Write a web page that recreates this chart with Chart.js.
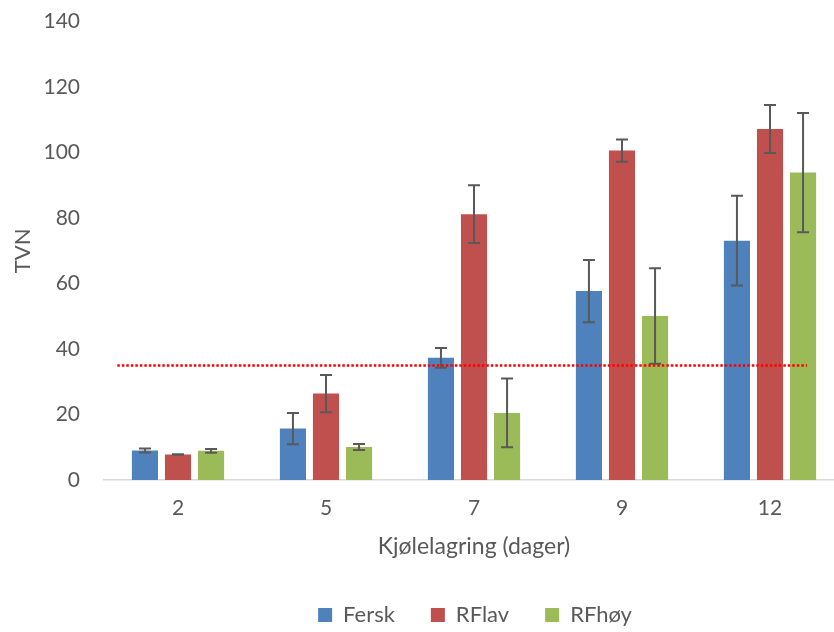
<!DOCTYPE html>
<html>
<head>
<meta charset="utf-8">
<script src="https://cdn.jsdelivr.net/npm/chart.js@4/dist/chart.umd.min.js"></script>
<style>
  html, body { margin: 0; padding: 0; background: #fff; overflow: hidden; }
  #wrap { position: relative; width: 950px; height: 647px; margin-top: -15px; }
</style>
</head>
<body>
<div id="wrap"><canvas id="tvn-chart"></canvas></div>
<script>
const days = ['2', '5', '7', '9', '12'];
const fersk = [9.0, 15.7, 37.3, 57.7, 73.1];
const ferskErr = [0.6, 4.8, 3.0, 9.5, 13.7];
const rflav = [7.8, 26.4, 81.2, 100.6, 107.2];
const rflavErr = [0.1, 5.7, 8.8, 3.4, 7.3];
const rfhoy = [8.9, 10.1, 20.5, 50.1, 93.9];
const rfhoyErr = [0.6, 0.9, 10.5, 14.6, 18.2];
const limitTVN = 35;

const textColor = '#595959';
const font = 'Lato, "Open Sans", sans-serif';

// error bars drawn from each dataset's errors through the y scale
const errorBars = {
    id: 'errorBars',
    afterDatasetsDraw(chart) {
        const ctx = chart.ctx;
        const y = chart.scales.y;
        chart.data.datasets.forEach((ds, di) => {
            const meta = chart.getDatasetMeta(di);
            meta.data.forEach((bar, i) => {
                const v = ds.data[i], e = ds.errors[i];
                const top = y.getPixelForValue(v + e);
                const bot = y.getPixelForValue(v - e);
                ctx.save();
                ctx.strokeStyle = '#595959';
                ctx.lineWidth = 2;
                ctx.beginPath();
                ctx.moveTo(bar.x, top); ctx.lineTo(bar.x, bot);
                ctx.moveTo(bar.x - 6, top); ctx.lineTo(bar.x + 6, top);
                ctx.moveTo(bar.x - 6, bot); ctx.lineTo(bar.x + 6, bot);
                ctx.stroke();
                ctx.restore();
            });
        });
    }
};

// dotted red limit line
const limitLine = {
    id: 'limitLine',
    afterDatasetsDraw(chart) {
        const ctx = chart.ctx;
        const x = chart.scales.x, y = chart.scales.y;
        const py = y.getPixelForValue(limitTVN);
        ctx.save();
        ctx.strokeStyle = '#ff0000';
        ctx.lineWidth = 2.5;
        ctx.setLineDash([2.5, 2]);
        ctx.beginPath();
        ctx.moveTo(x.getPixelForValue(-0.41), py);
        ctx.lineTo(x.getPixelForValue(4.25), py);
        ctx.stroke();
        ctx.restore();
    }
};

new Chart(document.getElementById('tvn-chart'), {
    type: 'bar',
    data: {
        labels: days,
        datasets: [
            { label: 'Fersk', data: fersk, errors: ferskErr, backgroundColor: '#4F81BD', borderWidth: 0 },
            { label: 'RFlav', data: rflav, errors: rflavErr, backgroundColor: '#C0504D', borderWidth: 0 },
            { label: 'RFhøy', data: rfhoy, errors: rfhoyErr, backgroundColor: '#9BBB59', borderWidth: 0 }
        ]
    },
    options: {
        responsive: true,
        maintainAspectRatio: false,
        animation: false,
        datasets: { bar: { categoryPercentage: 0.67, barPercentage: 0.79 } },
        layout: { padding: { top: 5, left: 0, right: 0, bottom: 0 } },
        plugins: {
            tooltip: { enabled: false },
            legend: {
                position: 'bottom',
                maxHeight: 64,
                labels: { boxWidth: 14, boxHeight: 14, padding: 36, color: textColor, font: { family: font, size: 22 } }
            }
        },
        scales: {
            x: {
                grid: { display: false, drawTicks: false },
                border: { display: true, color: '#D9D9D9', width: 1.5 },
                ticks: { color: textColor, padding: 16, font: { family: font, size: 21 } },
                title: { display: true, text: 'Kjølelagring (dager)', color: textColor, padding: { top: 0, bottom: 8 }, font: { family: font, size: 23 } },
                afterFit: s => { s.height = 88; }
            },
            y: {
                min: 0, max: 140,
                grid: { display: false, drawTicks: false },
                border: { display: false },
                ticks: { stepSize: 20, color: textColor, padding: 24, font: { family: font, size: 21 } },
                title: { display: true, text: 'TVN', color: textColor, padding: { top: 10, bottom: 0 }, font: { family: font, size: 22 } },
                afterFit: s => { s.width = 104; }
            },
            spacer: {
                position: 'right',
                grid: { display: false, drawTicks: false },
                border: { display: false },
                ticks: { display: false },
                afterFit: s => { s.width = 106; }
            }
        }
    },
    plugins: [errorBars, limitLine]
});
</script>
</body>
</html>
